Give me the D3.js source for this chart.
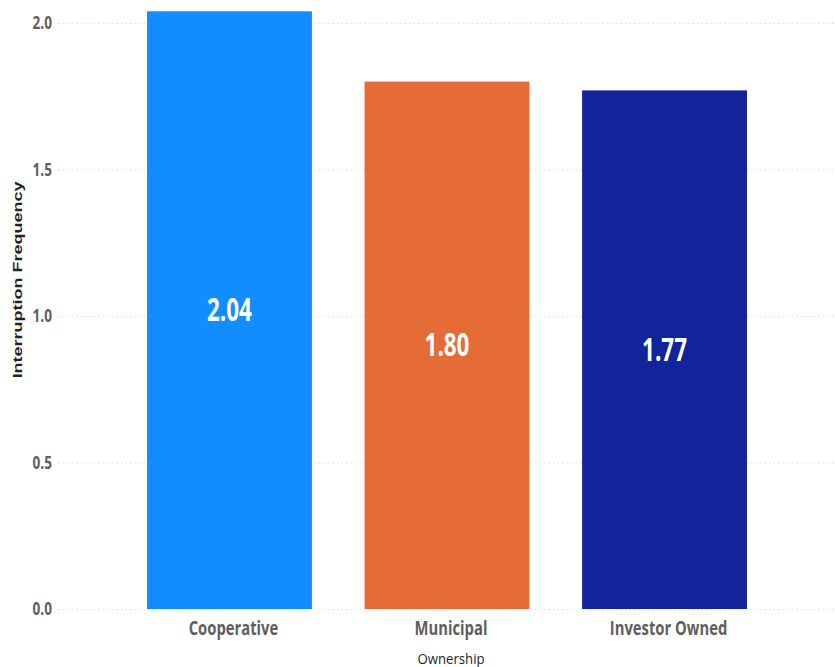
<!DOCTYPE html>
<html>
<head>
<meta charset="utf-8">
<script src="https://cdn.jsdelivr.net/npm/d3@7"></script>
<style>
  body { margin: 0; background: #fff; }
  svg { display: block; }
</style>
</head>
<body>
<svg width="835" height="667"></svg>
<script>
// Data
const categories = ["Cooperative", "Municipal", "Investor Owned"];
const values = [2.04, 1.80, 1.77];
const colors = ["#118DFF", "#E66C37", "#12239E"];
const yTicks = [0, 0.5, 1.0, 1.5, 2.0];

const svg = d3.select("svg");

// Scales
const x = d3.scaleBand()
    .domain(categories)
    .range([120.7, 773.3])
    .paddingInner(0.242)
    .paddingOuter(0.121);

const y = d3.scaleLinear()
    .domain([0, 2])
    .range([609, 23]);

// Gridlines
svg.selectAll(".grid")
    .data(yTicks)
    .enter().append("line")
    .attr("class", "grid")
    .attr("x1", 58)
    .attr("x2", 835)
    .attr("y1", d => y(d) + 0.5)
    .attr("y2", d => y(d) + 0.5)
    .attr("stroke", "#dcdcdc")
    .attr("stroke-width", 1)
    .attr("stroke-dasharray", "1.5,3");

// Y tick labels (condensed look via scaleX)
svg.selectAll(".ytick")
    .data(yTicks)
    .enter().append("text")
    .attr("class", "ytick")
    .attr("transform", d => `translate(52,${y(d) + 6}) scale(0.8,1)`)
    .attr("text-anchor", "end")
    .style("font-family", "Open Sans")
    .style("font-weight", "bold")
    .style("font-size", "17px")
    .style("fill", "#605E5C")
    .text(d => d3.format(".1f")(d));

// Bars
svg.selectAll(".bar")
    .data(values)
    .enter().append("rect")
    .attr("class", "bar")
    .attr("x", (d, i) => x(categories[i]))
    .attr("width", x.bandwidth())
    .attr("y", d => y(d))
    .attr("height", d => y(0) - y(d))
    .style("fill", (d, i) => colors[i]);

// Value labels in the middle of each bar
svg.selectAll(".value")
    .data(values)
    .enter().append("text")
    .attr("class", "value")
    .attr("transform", (d, i) => {
        const cx = x(categories[i]) + x.bandwidth() / 2;
        const cy = (y(d) + y(0)) / 2 + 11;
        return `translate(${cx},${cy}) scale(0.68,1)`;
    })
    .attr("text-anchor", "middle")
    .style("font-family", "Open Sans")
    .style("font-weight", "bold")
    .style("font-size", "33px")
    .style("fill", "#fff")
    .text(d => d3.format(".2f")(d));

// Category labels
svg.selectAll(".cat")
    .data(categories)
    .enter().append("text")
    .attr("class", "cat")
    .attr("transform", d => `translate(${x(d) + x.bandwidth() / 2 + 4},635) scale(0.74,1)`)
    .attr("text-anchor", "middle")
    .style("font-family", "Open Sans")
    .style("font-weight", "bold")
    .style("font-size", "20px")
    .style("fill", "#605E5C")
    .text(d => d);

// X axis title
svg.append("text")
    .attr("transform", "translate(451,664) scale(0.88,1)")
    .attr("text-anchor", "middle")
    .style("font-family", "Open Sans")
    .style("font-size", "15px")
    .style("fill", "#252423")
    .text("Ownership");

// Y axis title
svg.append("text")
    .attr("transform", "translate(22,280) scale(0.7,1) rotate(-90)")
    .attr("text-anchor", "middle")
    .style("font-family", "Liberation Sans")
    .style("font-weight", "bold")
    .style("font-size", "18px")
    .style("fill", "#222")
    .text("Interruption Frequency");
</script>
</body>
</html>
